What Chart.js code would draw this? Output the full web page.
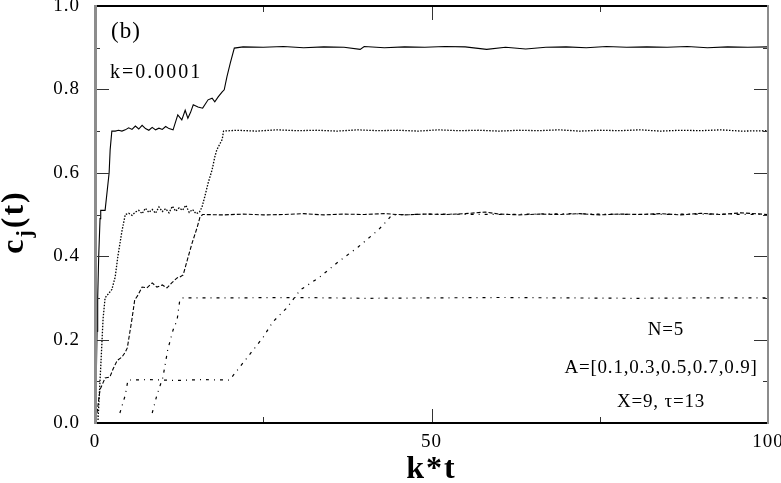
<!DOCTYPE html>
<html><head><meta charset="utf-8">
<script src="https://cdn.jsdelivr.net/npm/chart.js@4"></script>
<style>html,body{margin:0;padding:0;background:#fff;overflow:hidden}</style>
</head><body>
<canvas id="c" width="781" height="483"></canvas>
<script>
// ---- data (k*t, c_j(t)) ----
const xTicks = [0, 50, 100];
const xMinorTicks = [25, 75];
const yTicks = [0.0, 0.2, 0.4, 0.6, 0.8, 1.0];
const yMinorTicks = [0.1, 0.3, 0.5, 0.7, 0.9];

const seriesA09 = [[0.2,0.12],[0.3,0.22],[0.4,0.30],[0.55,0.40],[0.75,0.49],[0.85,0.51],[1.2,0.51],[1.5,0.51],[2.1,0.60],[2.25,0.655],[2.5,0.70],
 [3,0.700],[3.5,0.702],[4,0.700],[4.5,0.703],[5,0.708],[5.5,0.704],[6,0.712],[6.5,0.705],[7,0.714],[7.5,0.706],[8,0.702],[8.5,0.709],[9,0.703],[9.5,0.707],[10,0.704],[10.5,0.711],[11,0.706],[11.6,0.703],
 [12.3,0.739],[12.9,0.727],[13.4,0.750],[13.8,0.731],[14.2,0.745],[14.6,0.763],[15.3,0.758],[16.0,0.755],[16.8,0.775],[17.4,0.779],[17.8,0.770],[18.3,0.782],[18.9,0.794],[19.2,0.799],[19.6,0.830],[20.1,0.863],[20.7,0.899],
 [22,0.902],[25,0.901],[28,0.903],[31,0.900],[34,0.902],[37,0.901],[39.4,0.896],[40,0.903],[43,0.900],[46,0.902],[49,0.901],[52,0.903],[55,0.902],[58.2,0.896],[61,0.901],[64,0.897],[67,0.901],[70,0.902],[73,0.900],[76,0.903],[79,0.901],[82,0.902],[85,0.901],[88,0.903],[91,0.900],[94,0.902],[97,0.901],[100,0.902]];

const seriesA07 = [[0.45,0.007],[0.6,0.055],[0.9,0.15],[1.2,0.25],[1.5,0.30],[2.0,0.31],[2.5,0.32],[3.0,0.35],[3.4,0.40],[4.0,0.46],[4.5,0.50],
 [5,0.503],[5.5,0.498],[6,0.506],[6.5,0.510],[7,0.502],[7.5,0.515],[8,0.505],[8.5,0.512],[9,0.503],[9.5,0.518],[10,0.507],[10.5,0.514],[11,0.504],[11.5,0.520],[12,0.508],[12.5,0.516],[13,0.510],[13.5,0.522],[14,0.505],[14.5,0.512],[15,0.502],[15.5,0.505],
 [15.9,0.518],[16.3,0.542],[16.8,0.575],[17.4,0.607],[17.8,0.638],[18.1,0.655],[18.9,0.680],[19.1,0.700],
 [21,0.702],[24,0.700],[27,0.703],[30,0.701],[33,0.702],[36,0.700],[39,0.703],[42,0.701],[45,0.702],[48,0.700],[51,0.703],[54,0.701],[57,0.702],[60,0.700],[63,0.702],[66,0.701],[69,0.703],[72,0.700],[75,0.702],[78,0.701],[81,0.703],[84,0.700],[87,0.702],[90,0.701],[93,0.703],[96,0.700],[100,0.701]];

const seriesA05 = [[0.2,0.01],[0.5,0.05],[0.75,0.08],[1.5,0.108],[2.2,0.110],[2.7,0.130],[3.3,0.150],[4.0,0.158],[4.5,0.170],[4.8,0.180],[5.2,0.220],[5.5,0.250],[5.9,0.295],[6.4,0.307],
 [7.0,0.326],[7.7,0.324],[8.5,0.336],[9.2,0.326],[10.0,0.331],[10.7,0.324],[11.4,0.336],[12.2,0.348],[12.6,0.350],[13.1,0.355],[13.7,0.390],[14.4,0.430],[15.2,0.470],[15.6,0.494],[16.0,0.500],
 [19,0.499],[22,0.501],[25,0.499],[28,0.500],[31,0.502],[34,0.499],[37,0.501],[40,0.500],[43,0.502],[46,0.499],[49,0.501],[52,0.500],[55,0.502],[58,0.506],[60,0.501],[63,0.499],[66,0.501],[69,0.500],[72,0.502],[75,0.499],[78,0.501],[81,0.500],[84,0.502],[87,0.499],[90,0.503],[93,0.500],[96,0.504],[100,0.500]];

const seriesA03 = [[8.5,0.024],[9.2,0.067],[10.1,0.110],[10.8,0.175],[11.6,0.223],[12.2,0.247],[12.6,0.295],[13.1,0.300],
 [20,0.300],[30,0.301],[40,0.299],[50,0.300],[60,0.301],[70,0.300],[80,0.299],[90,0.300],[100,0.300]];

const seriesA01 = [[3.7,0.024],[4.5,0.067],[4.9,0.103],[8,0.104],[12,0.102],[16,0.104],[20,0.103],
 [21.5,0.134],[23.5,0.175],[25.0,0.206],[26.4,0.242],[28.5,0.276],[30.5,0.319],[33.4,0.350],[36.1,0.386],[39.1,0.422],[42.1,0.463],[43.5,0.487],[44.1,0.499],
 [50,0.501],[60,0.500],[70,0.502],[80,0.500],[90,0.501],[100,0.500]];

const seriesList = [
  {data: seriesA09, dash: [], width: 1.1},
  {data: seriesA07, dash: [1.5, 1.5], width: 1.3},
  {data: seriesA05, dash: [4, 2], width: 1.1},
  {data: seriesA03, dash: [3, 5, 1, 5], width: 1.2},
  {data: seriesA01, dash: [3, 5, 1, 5], width: 1.2}
];

const SERIF = "'Liberation Serif', 'Times New Roman', serif";

const decor = {
  id: 'decor',
  beforeDraw(chart) { chart.ctx.letterSpacing = '1px'; },
  afterDraw(chart) {
    const ctx = chart.ctx, a = chart.chartArea;
    const xs = chart.scales.x, ys = chart.scales.y;
    ctx.save();
    // ticks (inside)
    ctx.strokeStyle = '#333'; ctx.lineWidth = 1;
    const hl = (x1, x2, y) => { ctx.beginPath(); ctx.moveTo(x1, y); ctx.lineTo(x2, y); ctx.stroke(); };
    const vl = (x, y1, y2) => { ctx.beginPath(); ctx.moveTo(x, y1); ctx.lineTo(x, y2); ctx.stroke(); };
    yTicks.forEach(v => { const y = Math.round(ys.getPixelForValue(v)) + 0.5; hl(a.left, a.left + 14, y); hl(a.right - 14, a.right, y); });
    yMinorTicks.forEach(v => { const y = Math.round(ys.getPixelForValue(v)) + 0.5; hl(a.left, a.left + 5, y); hl(a.right - 5, a.right, y); });
    xTicks.forEach(v => { const x = Math.round(xs.getPixelForValue(v)) + 0.5; vl(x, a.bottom, a.bottom - 14); vl(x, a.top, a.top + 14); });
    xMinorTicks.forEach(v => { const x = Math.round(xs.getPixelForValue(v)) + 0.5; vl(x, a.bottom, a.bottom - 6); vl(x, a.top, a.top + 6); });
    // frame
    ctx.strokeStyle = '#000'; ctx.lineWidth = 2;
    hl(a.left, a.right, a.top); hl(a.left, a.right, a.bottom);
    ctx.strokeStyle = '#8c8c8c'; ctx.lineWidth = 3; vl(a.left + 0.5, a.top - 1, a.bottom + 1);
    ctx.lineWidth = 2; vl(a.right, a.top - 1, a.bottom + 1);
    // texts
    ctx.fillStyle = '#000';
    ctx.textBaseline = 'alphabetic';
    ctx.textAlign = 'left';
    ctx.letterSpacing = '1px';
    ctx.font = '23px ' + SERIF; ctx.fillText('(b)', 111, 38);
    ctx.letterSpacing = '2px';
    ctx.font = '20px ' + SERIF; ctx.fillText('k=0.0001', 110, 78);
    ctx.textAlign = 'center';
    ctx.letterSpacing = '0.8px';
    ctx.font = '19px ' + SERIF;
    ctx.fillText('N=5', 666, 335);
    ctx.fillText('A=[0.1,0.3,0.5,0.7,0.9]', 661, 373);
    ctx.fillText('X=9, \u03c4=13', 661, 407);
    // axis titles
    ctx.letterSpacing = '2px';
    ctx.font = 'bold 32px ' + SERIF;
    ctx.fillText('k*t', (a.left + a.right) / 2, 478);
    // y title: c_j(t) rotated
    ctx.save();
    ctx.translate(23, 222);
    ctx.rotate(-Math.PI / 2);
    ctx.textAlign = 'left';
    const big = 'bold 32px ' + SERIF, small = 'bold 22px ' + SERIF;
    ctx.font = big; const wc = ctx.measureText('c').width;
    ctx.font = small; const wj = ctx.measureText('j').width;
    ctx.font = big; const wt = ctx.measureText('(t)').width;
    const total = wc + wj + wt;
    let x0 = -total / 2;
    ctx.font = big; ctx.fillText('c', x0, 0);
    ctx.font = small; ctx.fillText('j', x0 + wc, 8);
    ctx.font = big; ctx.fillText('(t)', x0 + wc + wj, 0);
    ctx.restore();
    ctx.restore();
  }
};

new Chart(document.getElementById('c'), {
  type: 'line',
  data: {
    datasets: seriesList.map(s => ({
      data: s.data.map(([x, y]) => ({x, y})),
      borderColor: '#000', borderWidth: s.width, borderDash: s.dash,
      pointRadius: 0, tension: 0, fill: false
    }))
  },
  options: {
    responsive: false, animation: false, devicePixelRatio: 1,
    layout: {padding: {left: 0, right: 13, top: 6, bottom: 0}},
    plugins: {legend: {display: false}, tooltip: {enabled: false}},
    scales: {
      x: {
        type: 'linear', min: 0, max: 100,
        grid: {display: false, drawTicks: false}, border: {display: false},
        ticks: {padding: 8, color: '#000', maxRotation: 0, font: {family: SERIF, size: 19}},
        afterBuildTicks(s) { s.ticks = xTicks.map(v => ({value: v})); },
        afterFit(s) { s.height = 60; s.paddingLeft = 0; s.paddingRight = 0; }
      },
      y: {
        type: 'linear', min: 0, max: 1,
        grid: {display: false, drawTicks: false}, border: {display: false},
        ticks: {padding: 15, color: '#000', font: {family: SERIF, size: 19}, callback: v => v.toFixed(1)},
        afterBuildTicks(s) { s.ticks = yTicks.map(v => ({value: v})); },
        afterFit(s) { s.width = 95; s.paddingTop = 0; s.paddingBottom = 0; }
      }
    }
  },
  plugins: [decor]
});
</script>
</body></html>
